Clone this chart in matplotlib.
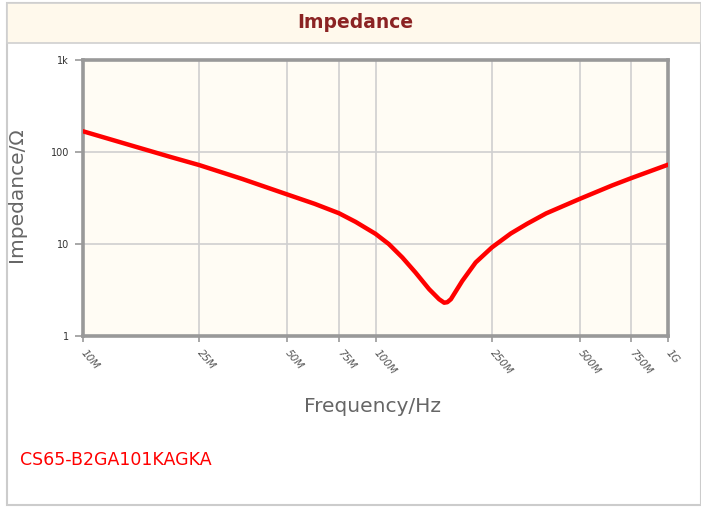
import matplotlib
matplotlib.use("Agg")
import matplotlib.pyplot as plt
from matplotlib.patches import Rectangle
from matplotlib.ticker import FixedLocator, NullLocator

# Data
freq_hz = [10e6, 15e6, 20e6, 25e6, 35e6, 50e6, 62e6, 75e6, 85.5e6, 100e6, 111e6,
           123.5e6, 137e6, 152.5e6, 165e6, 171.7e6, 176e6, 181e6, 198e6, 220e6,
           250e6, 290e6, 330e6, 383e6, 500e6, 644e6, 750e6, 1e9]
impedance_ohm = [168, 115, 88, 72, 51, 34.5, 27.3, 21.6, 17.4, 12.9, 10.0,
                 7.14, 4.9, 3.23, 2.51, 2.30, 2.33, 2.51, 3.97, 6.3,
                 9.18, 13.0, 16.6, 21.5, 31, 43.3, 52.1, 72.8]

x_ticks = [10e6, 25e6, 50e6, 75e6, 100e6, 250e6, 500e6, 750e6, 1e9]
x_tick_labels = ["10M", "25M", "50M", "75M", "100M", "250M", "500M", "750M", "1G"]
y_ticks = [1, 10, 100, 1000]
y_tick_labels = ["1", "10", "100", "1k"]

title = "Impedance"
part_number = "CS65-B2GA101KAGKA"

W, H = 701, 509
fig = plt.figure(figsize=(W / 100, H / 100), dpi=100)
fig.patch.set_facecolor("white")

def fx(px):
    return px / W

def fy(py):
    return 1 - py / H

# outer border
fig.patches.append(Rectangle((fx(7), fy(505)), fx(701) - fx(7), fy(3) - fy(505),
                             transform=fig.transFigure, facecolor="none",
                             edgecolor="#cccccc", linewidth=1.5, zorder=-2))
# header band
fig.patches.append(Rectangle((fx(7), fy(43)), fx(701) - fx(7), fy(3) - fy(43),
                             transform=fig.transFigure, facecolor="#fff9ec",
                             edgecolor="#d0d0d0", linewidth=1.2, zorder=-1))
fig.text(fx(355), fy(22), title, ha="center", va="center", fontsize=13.5,
         fontweight="bold", color="#8b2323")

ax = fig.add_axes([fx(83), fy(336), fx(668) - fx(83), fy(60) - fy(336)], zorder=5)
ax.set_facecolor("#fffcf4")
ax.set_xscale("log")
ax.set_yscale("log")
ax.set_xlim(10e6, 1e9)
ax.set_ylim(1, 1000)

ax.plot(freq_hz, impedance_ohm, color="#ff0000", linewidth=3.2,
        solid_capstyle="round", solid_joinstyle="round", zorder=3)

ax.xaxis.set_major_locator(FixedLocator(x_ticks))
ax.xaxis.set_minor_locator(NullLocator())
ax.yaxis.set_major_locator(FixedLocator(y_ticks))
ax.yaxis.set_minor_locator(NullLocator())
ax.set_xticklabels(x_tick_labels)
ax.set_yticklabels(y_tick_labels)

ax.grid(True, which="major", color="#cfcfcf", linewidth=1.2, zorder=1)
ax.set_axisbelow(True)
for s in ax.spines.values():
    s.set_color("#999999")
    s.set_linewidth(2.6)

ax.tick_params(axis="y", length=6, width=1.2, color="#999999", labelsize=7,
               labelcolor="#333333", pad=4)
ax.tick_params(axis="x", length=4, width=1.2, color="#999999", labelsize=7.5,
               labelcolor="#555555", pad=7)
for lbl in ax.get_xticklabels():
    lbl.set_rotation(-50)
    lbl.set_ha("left")
    lbl.set_va("center")
    lbl.set_rotation_mode("anchor")
    lbl.set_fontstyle("italic")

fig.text(fx(17), fy(195), "Impedance/Ω", rotation=90, ha="center", va="center",
         fontsize=14.5, color="#666666")
fig.text(fx(372), fy(407), "Frequency/Hz", ha="center", va="center",
         fontsize=14.5, color="#666666")
fig.text(fx(20), fy(460), part_number, ha="left", va="center",
         fontsize=12.5, color="#ff0000")

fig.savefig("out.png", dpi=100)
